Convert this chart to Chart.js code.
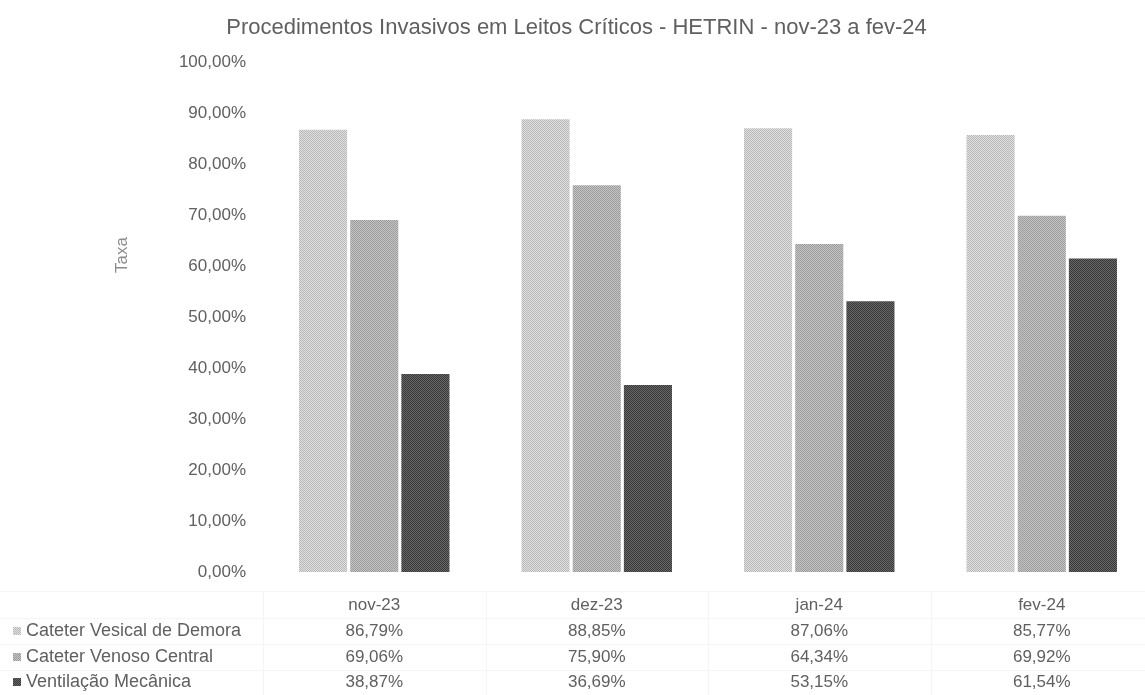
<!DOCTYPE html>
<html>
<head>
<meta charset="utf-8">
<script src="https://cdn.jsdelivr.net/npm/chart.js@4"></script>
<style>
    html, body { margin: 0; padding: 0; background: #fff; overflow: hidden; }
    #wrap { width: 1160px; height: 695px; }
</style>
</head>
<body>
<div id="wrap"><canvas id="procChart" width="1160" height="695"></canvas></div>
<script>
const categories = ['nov-23', 'dez-23', 'jan-24', 'fev-24'];
const seriesNames = ['Cateter Vesical de Demora', 'Cateter Venoso Central', 'Ventilação Mecânica'];
const vesical = [86.79, 88.85, 87.06, 85.77];
const venoso = [69.06, 75.90, 64.34, 69.92];
const ventilacao = [38.87, 36.69, 53.15, 61.54];

const FONT = '"Liberation Sans", Arial, sans-serif';
const TEXT = '#606060';

function pct(v) {
    return v.toFixed(2).replace('.', ',') + '%';
}

// halftone look of the printed bars
function makePattern(c1, c2) {
    const p = document.createElement('canvas');
    p.width = 2;
    p.height = 2;
    const g = p.getContext('2d');
    g.fillStyle = c1;
    g.fillRect(0, 0, 2, 2);
    g.fillStyle = c2;
    g.fillRect(0, 0, 1, 1);
    g.fillRect(1, 1, 1, 1);
    return g.createPattern(p, 'repeat');
}

const fills = [
    makePattern('#e0e0e0', '#b8b8b8'),
    makePattern('#c4c4c4', '#9c9c9c'),
    makePattern('#686868', '#383838')
];

const dataTable = {
    id: 'dataTable',
    afterDraw(chart) {
        const ctx = chart.ctx;
        const x = chart.scales.x;
        const area = chart.chartArea;
        const rows = [605, 631, 657, 682];
        const values = [vesical, venoso, ventilacao];
        ctx.save();

        // faint table rules (barely visible in the scan)
        ctx.strokeStyle = '#f5f5f5';
        ctx.lineWidth = 1;
        [591, 618, 644, 670].forEach(y => {
            ctx.beginPath();
            ctx.moveTo(0, y + 0.5);
            ctx.lineTo(area.right, y + 0.5);
            ctx.stroke();
        });
        for (let i = 0; i <= categories.length; i++) {
            const bx = Math.round(area.left + (area.right - area.left) * i / categories.length) + 0.5;
            ctx.beginPath();
            ctx.moveTo(bx, 591);
            ctx.lineTo(bx, 695);
            ctx.stroke();
        }

        ctx.font = '17px ' + FONT;
        ctx.fillStyle = TEXT;
        ctx.textBaseline = 'middle';
        ctx.textAlign = 'center';
        categories.forEach((c, i) => {
            const cx = x.getPixelForValue(i);
            ctx.fillText(c, cx, rows[0]);
            values.forEach((arr, s) => ctx.fillText(pct(arr[i]), cx, rows[s + 1]));
        });

        ctx.font = '18px ' + FONT;
        ctx.textAlign = 'left';
        seriesNames.forEach((name, s) => {
            ctx.fillStyle = fills[s];
            ctx.fillRect(13, rows[s + 1] - 4, 8, 8);
            ctx.fillStyle = TEXT;
            ctx.fillText(name, 26, rows[s + 1]);
        });

        // axis title
        ctx.font = '17px ' + FONT;
        ctx.translate(122, 255);
        ctx.rotate(-Math.PI / 2);
        ctx.textAlign = 'center';
        ctx.fillStyle = '#8c8c8c';
        ctx.fillText('Taxa', 0, 0);
        ctx.restore();
    }
};

new Chart(document.getElementById('procChart'), {
    type: 'bar',
    data: {
        labels: categories,
        datasets: [
            { label: seriesNames[0], data: vesical, backgroundColor: fills[0] },
            { label: seriesNames[1], data: venoso, backgroundColor: fills[1] },
            { label: seriesNames[2], data: ventilacao, backgroundColor: fills[2] }
        ]
    },
    options: {
        responsive: false,
        animation: false,
        devicePixelRatio: 1,
        layout: { padding: { left: 0, right: 7, top: 15, bottom: 123 } },
        datasets: { bar: { barPercentage: 0.94, categoryPercentage: 0.69, borderWidth: 0 } },
        plugins: {
            legend: { display: false },
            tooltip: { enabled: false },
            title: {
                display: true,
                text: 'Procedimentos Invasivos em Leitos Críticos - HETRIN - nov-23 a fev-24',
                color: TEXT,
                font: { family: FONT, size: 22, weight: 'normal' },
                padding: { top: 0, bottom: 21 }
            }
        },
        scales: {
            x: { display: false },
            y: {
                min: 0,
                max: 100,
                afterFit: s => { s.width = 263; },
                grid: { display: false },
                border: { display: false },
                ticks: {
                    stepSize: 10,
                    padding: 9,
                    color: TEXT,
                    font: { family: FONT, size: 17 },
                    callback: v => pct(v)
                }
            }
        }
    },
    plugins: [dataTable]
});
</script>
</body>
</html>
